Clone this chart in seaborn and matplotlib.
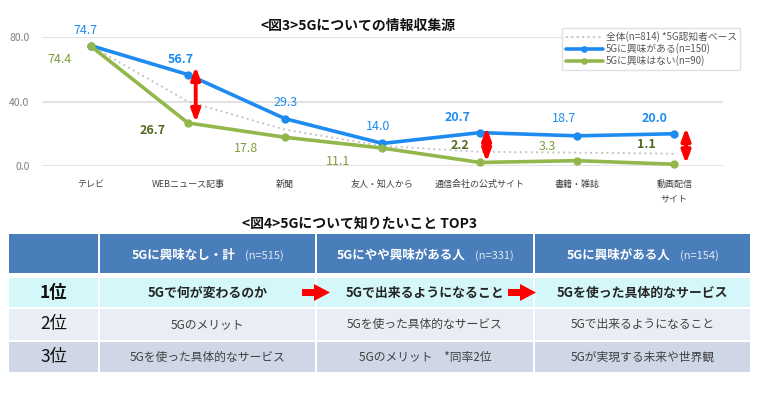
import pandas as pd
import matplotlib
matplotlib.use("Agg")
import matplotlib.pyplot as plt
import seaborn as sns
from matplotlib.patches import Rectangle, FancyArrow
from matplotlib.offsetbox import TextArea, HPacker, AnnotationBbox

# データ（図3：情報収集源）
categories = ['テレビ', 'WEBニュース記事', '新聞', '友人・知人から',
              '通信会社の公式サイト', '書籍・雑誌', '動画配信\nサイト']
total = [74.5, 40.0, 22.5, 12.4, 8.8, 8.3, 7.6]
interested = [74.7, 56.7, 29.3, 14.0, 20.7, 18.7, 20.0]
not_interested = [74.4, 26.7, 17.8, 11.1, 2.2, 3.3, 1.1]
legend_labels = ['全体(n=814) *5G認知者ベース', '5Gに興味がある(n=150)', '5Gに興味はない(n=90)']

# データ（図4：知りたいこと TOP3）
table_cols = ['5Gに興味なし・計', '5Gにやや興味がある人', '5Gに興味がある人']
table_n = ['(n=515)', '(n=331)', '(n=154)']
ranks = ['1位', '2位', '3位']
rank1 = ['5Gで何が変わるのか', '5Gで出来るようになること', '5Gを使った具体的なサービス']
rank2 = ['5Gのメリット', '5Gを使った具体的なサービス', '5Gで出来るようになること']
rank3 = ['5Gを使った具体的なサービス', '5Gのメリット　*同率2位', '5Gが実現する未来や世界観']

sns.set_theme(style='white')
plt.rcParams['font.family'] = ['Noto Sans CJK JP', 'DejaVu Sans']

BLUE = '#1E8BF0'
GREEN = '#93B74C'
GREEN_DARK = '#4F6A1E'
GREEN_LABEL = '#7E9E3C'

fig = plt.figure(figsize=(7.6, 3.99), dpi=100)

# ---- 図3 折れ線 ----
ax = fig.add_axes([42 / 760, 1 - 166 / 399, 681 / 760, 129 / 399])
df = pd.DataFrame({'cat': categories, 'total': total,
                   'yes': interested, 'no': not_interested})

sns.lineplot(data=df, x='cat', y='total', sort=False, ax=ax, color='#BDBDBD',
             linestyle=(0, (1, 2)), lw=1.3, label=legend_labels[0])
sns.lineplot(data=df, x='cat', y='yes', sort=False, ax=ax, color=BLUE, lw=2.6,
             marker='o', markersize=6, markeredgewidth=0, label=legend_labels[1])
sns.lineplot(data=df, x='cat', y='no', sort=False, ax=ax, color=GREEN, lw=2.6,
             marker='o', markersize=6, markeredgewidth=0, label=legend_labels[2])
for ln in ax.lines:
    ln.set_clip_on(False)

ax.set_xlim(-0.5, 6.5)
ax.set_ylim(0, 80)
ax.set_yticks([0, 40, 80])
ax.set_yticklabels(['0.0', '40.0', '80.0'])
ax.set_xlabel('')
ax.set_ylabel('')
ax.yaxis.grid(True, color='#E3E3E3', lw=1.5)
ax.set_axisbelow(True)
sns.despine(ax=ax, left=True, bottom=True)
ax.tick_params(axis='y', length=0, pad=9, labelsize=7.5, labelcolor='#7F7F7F')
ax.tick_params(axis='x', length=0, pad=10, labelsize=6.5, labelcolor='#404040')
for t in ax.get_xticklabels():
    t.set_linespacing(1.7)
    t.set_verticalalignment('top')

# ラベル位置（ピクセルオフセット）
blue_off = [(-5, 15), (-7, 15), (0, 16), (-4, 17), (-22, 15), (-13, 17), (-20, 15)]
blue_bold = [False, True, False, False, True, False, True]
green_off = [(-31, -13), (-35, -8), (-39, -11), (-44, -13), (-20, 17), (-30, 14), (-28, 20)]
green_bold = [False, True, False, False, True, False, True]

for i, v in enumerate(interested):
    ax.annotate(f'{v:.1f}', (i, v), xytext=blue_off[i], textcoords='offset pixels',
                ha='center', va='center', fontsize=9, color=BLUE,
                fontweight='bold' if blue_bold[i] else 'normal', annotation_clip=False)
for i, v in enumerate(not_interested):
    ax.annotate(f'{v:.1f}', (i, v), xytext=green_off[i], textcoords='offset pixels',
                ha='center', va='center', fontsize=9,
                color=GREEN_DARK if green_bold[i] else GREEN_LABEL,
                fontweight='bold' if green_bold[i] else 'normal', annotation_clip=False)

# 差を示す赤矢印
gap_idx = [1, 4, 6]
gap_dx = [0.08, 0.07, 0.12]
gap_top = [5, 3.2, 3.8]
for i, dx, top in zip(gap_idx, gap_dx, gap_top):
    ax.annotate('', xy=(i + dx, not_interested[i] + 0.3), xytext=(i + dx, interested[i] + top),
                arrowprops=dict(arrowstyle='<|-|>,head_length=0.6,head_width=0.22',
                                color='#FF0000', lw=2.8, shrinkA=0, shrinkB=0),
                annotation_clip=False)

leg = ax.legend(loc='upper right', bbox_to_anchor=(745 / 760, 1 - 23 / 399),
                bbox_transform=fig.transFigure, fontsize=7, frameon=True,
                fancybox=False, edgecolor='#D9D9D9', handlelength=3.8,
                handletextpad=0.3, labelspacing=0.12, borderpad=0.35, markerscale=0.8)
leg.get_frame().set_linewidth(1.0)
for t in leg.get_texts():
    t.set_color('#595959')

fig.text(358 / 760, 1 - 26 / 399, '<図3>5Gについての情報収集源', ha='center', va='center',
         fontsize=10, fontweight='bold', color='#111111')

# ---- 図4 表 ----
fig.text(360 / 760, 1 - 225 / 399, '<図4>5Gについて知りたいこと TOP3', ha='center', va='center',
         fontsize=10, fontweight='bold', color='#111111')

tax = fig.add_axes([9 / 760, 1 - 373 / 399, 741 / 760, 139 / 399])
tax.set_xlim(0, 741)
tax.set_ylim(139, 0)
tax.axis('off')

col_left = [0, 91, 308, 526]
col_w = [89, 215, 216, 215]
row_top = [0, 44, 75, 108]
row_h = [39, 29, 31, 30]
row_colors = ['#4A7EBB', '#D4F7F9', '#E9EDF4', '#CFD7E6']

for r in range(4):
    for c in range(4):
        tax.add_patch(Rectangle((col_left[c], row_top[r]), col_w[c], row_h[r],
                                facecolor=row_colors[r], edgecolor='none'))

def cx(c):
    return col_left[c] + col_w[c] / 2

def cy(r):
    return row_top[r] + row_h[r] / 2

# 見出し
for c in range(3):
    a = TextArea(table_cols[c], textprops=dict(color='white', fontsize=9, fontweight='bold'))
    b = TextArea(table_n[c], textprops=dict(color='#E2EAF5', fontsize=8))
    box = HPacker(children=[a, b], align='baseline', pad=0, sep=7)
    tax.add_artist(AnnotationBbox(box, (cx(c + 1), cy(0) + 2), frameon=False,
                                  box_alignment=(0.5, 0.5), xycoords='data'))

rows = [rank1, rank2, rank3]
for r in range(3):
    tax.text(cx(0), cy(r + 1), ranks[r], ha='center', va='center', fontsize=12.5,
             fontweight='bold' if r == 0 else 'normal', color='#111111')
    for c in range(3):
        tax.text(cx(c + 1), cy(r + 1), rows[r][c], ha='center', va='center',
                 fontsize=9.3 if r == 0 else 8.5,
                 fontweight='bold' if r == 0 else 'normal',
                 color='#262626' if r == 0 else '#404040')

# 1位の赤矢印
for x0 in [293, 499]:
    tax.add_patch(FancyArrow(x0, cy(1), 28, 0, width=7, head_width=17, head_length=16,
                             length_includes_head=True, color='#FF0000', lw=0))

fig.savefig('out.png', dpi=100)
